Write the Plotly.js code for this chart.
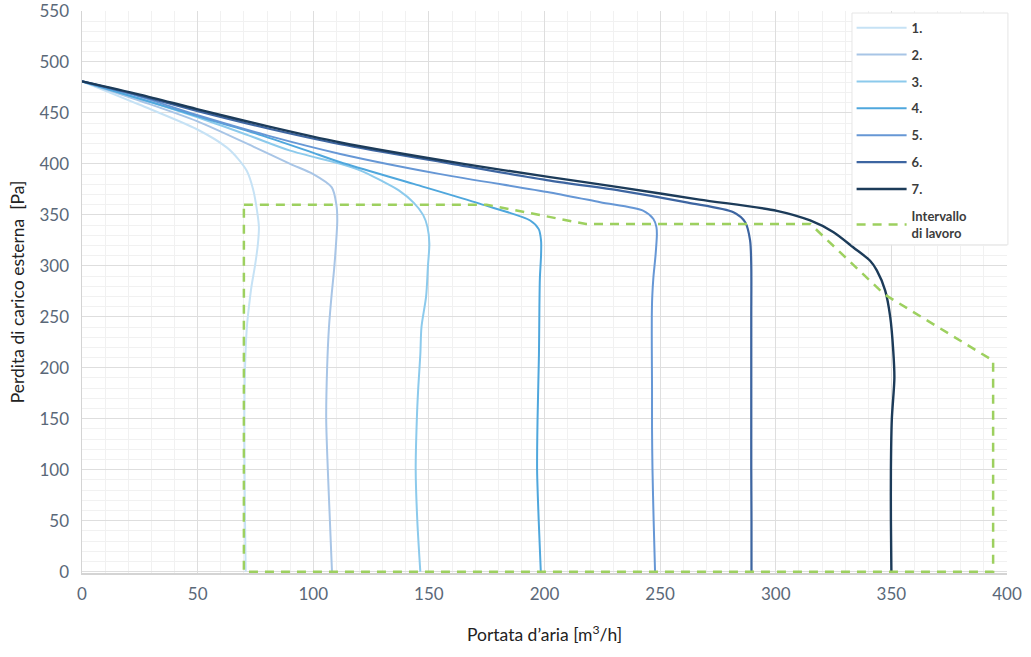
<!DOCTYPE html>
<html>
<head>
<meta charset="utf-8">
<script src="https://cdn.plot.ly/plotly-3.0.1.min.js"></script>
<style>
  html, body { margin: 0; padding: 0; background: #ffffff; }
  #chart { width: 1031px; height: 657px; }
</style>
</head>
<body>
<div id="chart"></div>
<script>
// Series names
const seriesNames = ["1.", "2.", "3.", "4.", "5.", "6.", "7."];
const rangeName = "Intervallo<br>di lavoro";

// Curve 1
const curve1_x = [0, 25, 49.7, 62.7, 67.5, 71.3, 74, 75.7, 76.5, 76, 74.8, 73.3, 72.2, 71.3, 70.5, 70.2, 70.3, 70.5, 70.8];
const curve1_y = [481, 458, 434, 416, 405, 393, 375, 354, 338, 320, 300, 280, 260, 240, 200, 150, 100, 50, 0];
// Curve 2
const curve2_x = [0, 25, 49.7, 75, 90, 100, 108, 110, 110.4, 109.8, 109, 108, 106.8, 106, 105.6, 106.3, 107.2, 108.1];
const curve2_y = [481, 462, 442, 416, 400, 390, 377, 360, 345, 320, 296, 273, 240, 200, 150, 100, 50, 0];
// Curve 3
const curve3_x = [0, 25, 49.7, 72, 90, 111.7, 121, 129, 137, 143.4, 147.5, 149.4, 150.2, 149.6, 148.8, 146.8, 146.3, 145.4, 144.8, 144.3, 145, 146.3];
const curve3_y = [481, 464, 446, 428, 413, 400, 393, 384, 374, 362, 350, 338, 322, 300, 270, 240, 213, 180, 150, 100, 50, 0];
// Curve 4
const curve4_x = [0, 25, 49.7, 75, 97.3, 111.7, 143.4, 172.2, 193.8, 197.5, 198.5, 198.5, 198, 197.8, 197.6, 197, 196.8, 197.5, 198.4];
const curve4_y = [481, 464, 447, 430, 413, 401.6, 380.4, 360.8, 344.5, 336, 325, 310, 288, 260, 213, 150, 100, 50, 0];
// Curve 5
const curve5_x = [0, 25, 49.7, 80, 111.7, 155, 202.4, 224.1, 242.8, 247.1, 248.4, 248.6, 248, 247.1, 246.6, 246.4, 246.4, 246.5, 246.5, 246.7, 247.2, 247.8];
const curve5_y = [481, 466, 448, 428, 409.8, 390, 372, 362.4, 354, 346, 338, 331, 310, 289, 270, 250, 221, 180, 140, 100, 50, 0];
// Curve 6
const curve6_x = [0, 25, 49.7, 80, 111.7, 160, 202.4, 232.7, 262, 281.7, 286.8, 288.9, 289.4, 289.4, 289.4, 289.4, 289.4, 289.5, 289.5];
const curve6_y = [481, 467, 452, 435, 419.3, 400, 383.6, 373.8, 362, 352.6, 342.8, 325, 300, 250, 200, 150, 100, 50, 0];
// Curve 7
const curve7_x = [0, 25, 49.7, 80, 111.7, 165, 202.4, 232.7, 267, 300.5, 314.9, 325, 333.6, 340.8, 343.7, 347.3, 349.5, 350.8, 351.3, 350.2, 349.8, 349.8, 350];
const curve7_y = [481, 468, 453.8, 437, 421, 400, 387, 377, 365, 354, 344.5, 333, 318, 305, 295.6, 276, 250, 217, 190, 150, 100, 50, 0];

// Working range (dashed polygon)
const range_x = [70, 175, 218, 315, 347, 394, 394, 70, 70];
const range_y = [360, 360, 341, 341, 272, 207, 0, 0, 360];

// Axis ticks
const xTicks = [0, 50, 100, 150, 200, 250, 300, 350, 400];
const yTicks = [0, 50, 100, 150, 200, 250, 300, 350, 400, 450, 500, 550];

const colors = ["#c6e2f5", "#a8c5e6", "#8ccaec", "#4fa7dd", "#6697d5", "#3d65a1", "#1c3b59"];
const widths = [2, 2, 2, 2, 2, 2.2, 2.4];

const xs = [curve1_x, curve2_x, curve3_x, curve4_x, curve5_x, curve6_x, curve7_x];
const ys = [curve1_y, curve2_y, curve3_y, curve4_y, curve5_y, curve6_y, curve7_y];

const traces = xs.map((x, i) => ({
  type: "scatter",
  mode: "lines",
  x: x,
  y: ys[i],
  name: seriesNames[i],
  legendgroup: "g" + i,
  line: { color: colors[i], width: widths[i], shape: "spline", smoothing: 0.8 },
  hoverinfo: "skip"
}));

traces.push({
  type: "scatter",
  mode: "lines",
  x: range_x,
  y: range_y,
  name: rangeName,
  legendgroup: "g7",
  line: { color: "#9dd05f", width: 2.5, dash: "9px,7px" },
  hoverinfo: "skip"
});

const tickFont = { family: "Lato, 'Open Sans', sans-serif", size: 17, color: "#5a6878" };
const titleFont = { family: "Lato, 'Open Sans', sans-serif", size: 17.5, color: "#222222" };

const layout = {
  width: 1031,
  height: 657,
  margin: { l: 82, r: 24, t: 11, b: 84 },
  paper_bgcolor: "#ffffff",
  plot_bgcolor: "#ffffff",
  showlegend: true,
  legend: {
    x: 0.832, y: 0.997, xanchor: "left", yanchor: "top",
    bgcolor: "rgba(255,255,255,0)",
    borderwidth: 0,
    traceorder: "grouped",
    tracegroupgap: 7,
    itemwidth: 50,
    font: { family: "Lato, 'Open Sans', sans-serif", size: 13, color: "#3c3c3c", weight: "bold" }
  },
  shapes: [{
    type: "rect", xref: "paper", yref: "paper",
    x0: 0.8324, x1: 1.001, y0: 0.584, y1: 0.9964,
    fillcolor: "#ffffff",
    line: { color: "#e6e6e6", width: 1 },
    layer: "above"
  }],
  xaxis: {
    range: [0, 400],
    tickvals: xTicks,
    ticktext: xTicks.map(String),
    tickfont: tickFont,
    showgrid: true,
    gridcolor: "#dedede",
    gridwidth: 1,
    minor: { dtick: 10, showgrid: true, gridcolor: "#f1f1f1", gridwidth: 1 },
    zeroline: false,
    showline: true,
    linecolor: "#d4d4d4",
    linewidth: 1.5,
    layer: "below traces",
    ticks: "",
    ticklabelstandoff: 5,
    ticklabeloverflow: "allow",
    title: { text: "Portata d’aria [m<sup>3</sup>/h]", font: titleFont, standoff: 26 }
  },
  yaxis: {
    range: [-1.3, 550],
    tickvals: yTicks,
    ticktext: yTicks.map(String),
    tickfont: tickFont,
    showgrid: true,
    gridcolor: "#dedede",
    gridwidth: 1,
    minor: { dtick: 10, showgrid: true, gridcolor: "#f1f1f1", gridwidth: 1 },
    zeroline: false,
    showline: true,
    linecolor: "#d4d4d4",
    linewidth: 1.5,
    layer: "below traces",
    ticks: "",
    ticklabelstandoff: 8,
    ticklabeloverflow: "allow",
    title: { text: "Perdita di carico esterna  [Pa]", font: titleFont, standoff: 10 }
  }
};

Plotly.newPlot("chart", traces, layout, { displayModeBar: false, staticPlot: true });
</script>
</body>
</html>
